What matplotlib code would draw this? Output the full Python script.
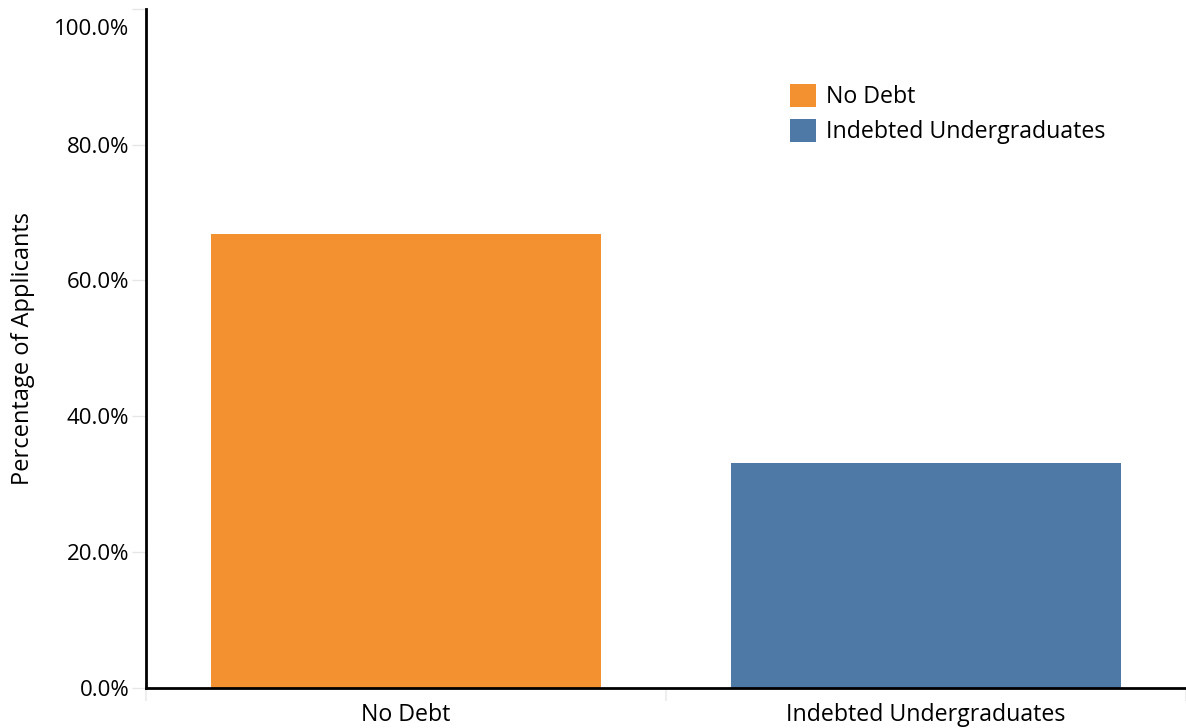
import numpy as np
import matplotlib.pyplot as plt
from matplotlib.ticker import FuncFormatter
import matplotlib.transforms as mtransforms

categories = ["No Debt", "Indebted Undergraduates"]
values = [66.9, 33.1]
colors = ["#F39030", "#4E79A7"]
yticks = [0, 20, 40, 60, 80, 100]

plt.rcParams['font.family'] = ['Open Sans', 'DejaVu Sans']

fig = plt.figure(figsize=(11.86, 7.28), dpi=100)
ax = fig.add_axes([146/1186, 40.5/728, 1040/1186, (687.5-9)/728])

x = np.arange(len(categories))
bars = ax.bar(x, values, width=0.751, color=colors, label=categories, zorder=2)

ax.set_xlim(-0.5, -0.5 + 1040/524.5)
ax.set_ylim(0, 100)
ax.set_yticks(yticks)
ax.yaxis.set_major_formatter(FuncFormatter(lambda v, p: "%.1f%%" % v))
ax.tick_params(axis='y', length=10, width=1, color='#e6e6e6', labelsize=16, pad=2)
ax.set_xticks(x)
ax.set_xticklabels(categories)
ax.tick_params(axis='x', length=0, labelsize=16.7, pad=11)
ax.set_xticks([-0.5, 0.5, 1.5], minor=True)
ax.tick_params(axis='x', which='minor', length=9, width=1.5, color='#eeeeee')

# top label sits a little below its tick like the original
lbl = ax.get_yticklabels()[-1]
lbl.set_transform(lbl.get_transform() + mtransforms.ScaledTranslation(0, -18/100, fig.dpi_scale_trans))

for s in ['top', 'right']:
    ax.spines[s].set_visible(False)
ax.spines['left'].set_linewidth(2)
ax.spines['bottom'].set_linewidth(2)

ax.set_ylabel("Percentage of Applicants", fontsize=17, labelpad=14)

leg = fig.legend(handles=bars, labels=categories, loc='upper left',
                 bbox_to_anchor=(781/1186, 1-75/728), frameon=False,
                 fontsize=16.7, handlelength=1.12, handleheight=1.12,
                 handletextpad=0.4, labelspacing=0.42, borderaxespad=0)

fig.savefig("out.png", dpi=100)
